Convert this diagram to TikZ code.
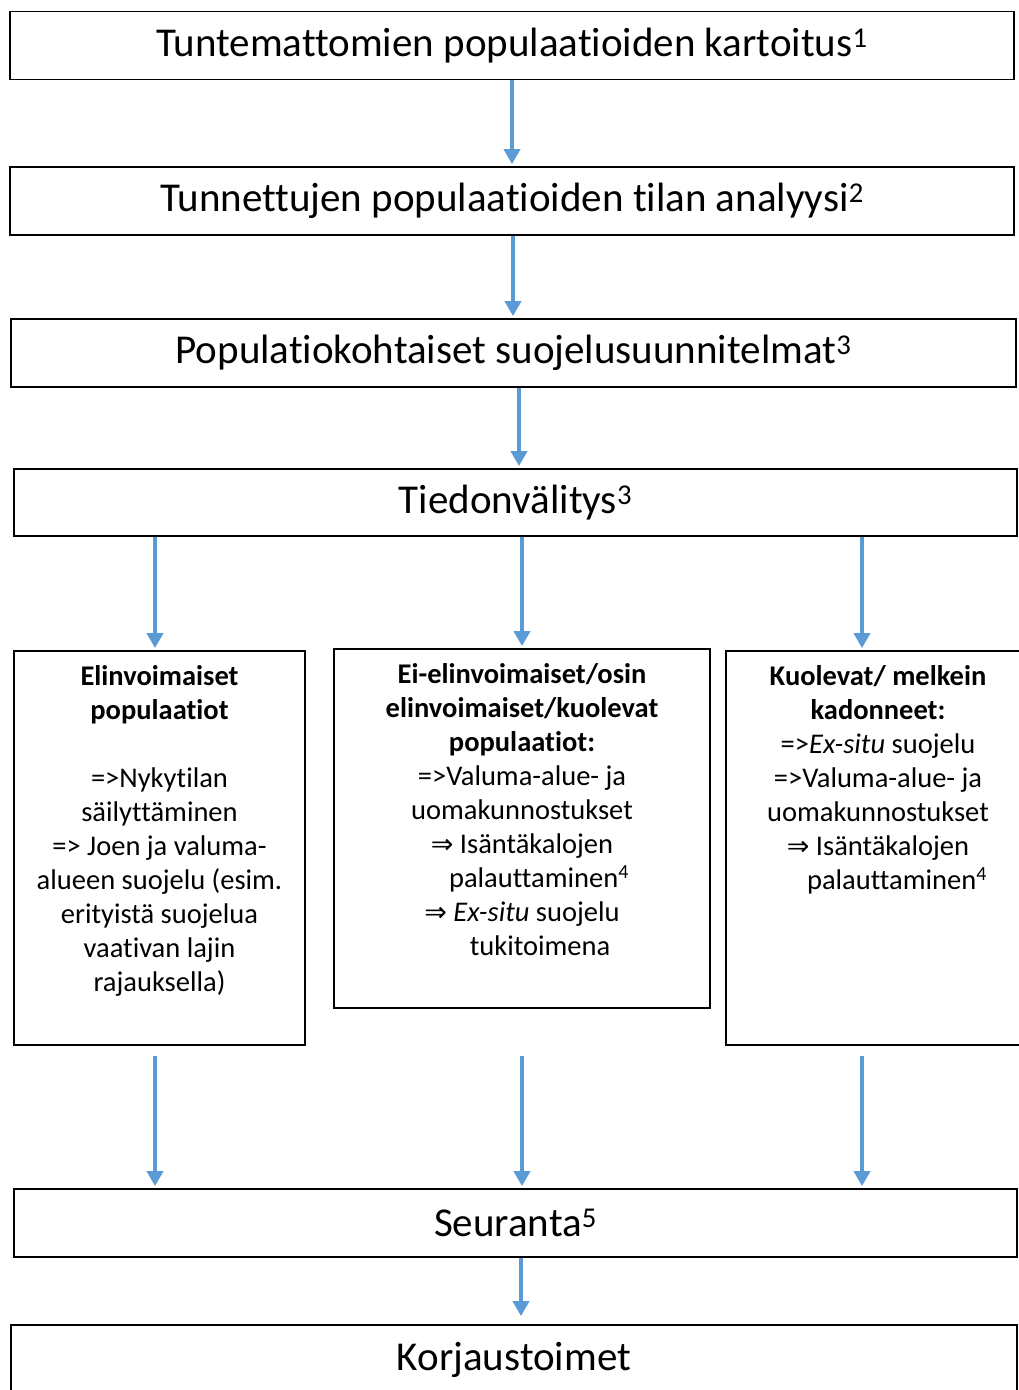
\documentclass[tikz,border=0pt]{standalone}
\usepackage{fontspec}
\setmainfont{Carlito}[Ligatures={NoCommon}]
\newfontfamily\symfont{DejaVu Sans}
\usetikzlibrary{positioning,arrows.meta}
\definecolor{flowblue}{RGB}{91,155,213}
\newcommand{\thento}{{\symfont\fontsize{27}{34}\selectfont ⇒}}

\begin{document}
\begin{tikzpicture}[x=1pt, y=-1pt]
    \tikzset{
      stage/.style = { draw, line width = 1.8pt, inner sep = 0pt, minimum height = 68pt,
                       font = \fontsize{41}{48}\selectfont },
      colbox/.style = { draw, line width = 1.8pt, inner sep = 0pt },
      coltext/.style = { inner sep = 0pt, align = center, font = \fontsize{28.5}{34}\selectfont },
      flow/.style = { flowblue, line width = 4.5pt, shorten > = 2pt,
                      -{Triangle[width = 16pt, length = 15pt]} },
    }
    \clip (0,0) rectangle (1019,1390);
    \fill[white] (0,0) rectangle (1019,1390);

    \node[stage, minimum width = 1004pt] (mapping) at (512,45.5)
        {Tuntemattomien populaatioiden kartoitus\textsuperscript{1}};
    \node[stage, minimum width = 1004pt] (analysis) at (512,201)
        {Tunnettujen populaatioiden tilan analyysi\textsuperscript{2}};
    \node[stage, minimum width = 1005pt] (plans) at (513.5,353)
        {Populatiokohtaiset suojelusuunnitelmat\textsuperscript{3}};
    \node[stage, minimum width = 1003pt, minimum height = 67pt] (info) at (515.5,502.5)
        {Tiedonvälitys\textsuperscript{3}};

    \node[colbox, minimum width = 291pt, minimum height = 394pt] (viable) at (159.5,848) {};
    \node[coltext, below = 15pt of viable.north] (viable text) {%
        \textbf{Elinvoimaiset}\\\textbf{populaatiot}\\[34pt]
        =>Nykytilan\\säilyttäminen\\=> Joen ja valuma-\\alueen suojelu (esim.\\
        erityistä suojelua\\vaativan lajin\\rajauksella)};

    \node[colbox, minimum width = 376pt, minimum height = 359pt] (partial) at (522,828.5) {};
    \node[coltext, below = 15pt of partial.north] (partial text) {%
        \textbf{Ei-elinvoimaiset/osin}\\\textbf{elinvoimaiset/kuolevat}\\\textbf{populaatiot:}\\
        =>Valuma-alue- ja\\uomakunnostukset\\\thento{} Isäntäkalojen\\
        \hspace*{34pt}palauttaminen\textsuperscript{4}\\\thento{} \textit{Ex-situ} suojelu\\
        \hspace*{36pt}tukitoimena};

    \node[colbox, minimum width = 304pt, minimum height = 394pt] (dying) at (878,848) {};
    \node[coltext, below = 15pt of dying.north] (dying text) {%
        \textbf{Kuolevat/ melkein}\\\textbf{kadonneet:}\\
        =>\textit{Ex-situ} suojelu\\=>Valuma-alue- ja\\uomakunnostukset\\
        \thento{} Isäntäkalojen\\\hspace*{38pt}palauttaminen\textsuperscript{4}};

    \node[stage, minimum width = 1003pt] (monitoring) at (515.5,1223) {Seuranta\textsuperscript{5}};
    \node[stage, minimum width = 1006pt, minimum height = 70pt] (repair) at (514,1360) {Korjaustoimet};

    \draw[flow] (mapping.south) -- (analysis.north);
    \draw[flow] ([xshift = 1pt]analysis.south) -- ([xshift = 1pt]analysis.south |- plans.north);
    \draw[flow] ([xshift = 5.5pt]plans.south) -- ([xshift = 5.5pt]plans.south |- info.north);

    \foreach \col/\dx in {viable/-4.5, partial/0, dying/-16} {
        \draw[flow] ([xshift = \dx pt]info.south -| \col.north) -- ([xshift = \dx pt]\col.north);
        \draw[flow] ([xshift = \dx pt, yshift = -10pt]viable.south -| \col.south)
            -- ([xshift = \dx pt]monitoring.north -| \col.south);
    }

    \draw[flow, shorten > = 8pt] ([xshift = 5.5pt]monitoring.south) -- ([xshift = 5.5pt]monitoring.south |- repair.north);
\end{tikzpicture}
\end{document}
